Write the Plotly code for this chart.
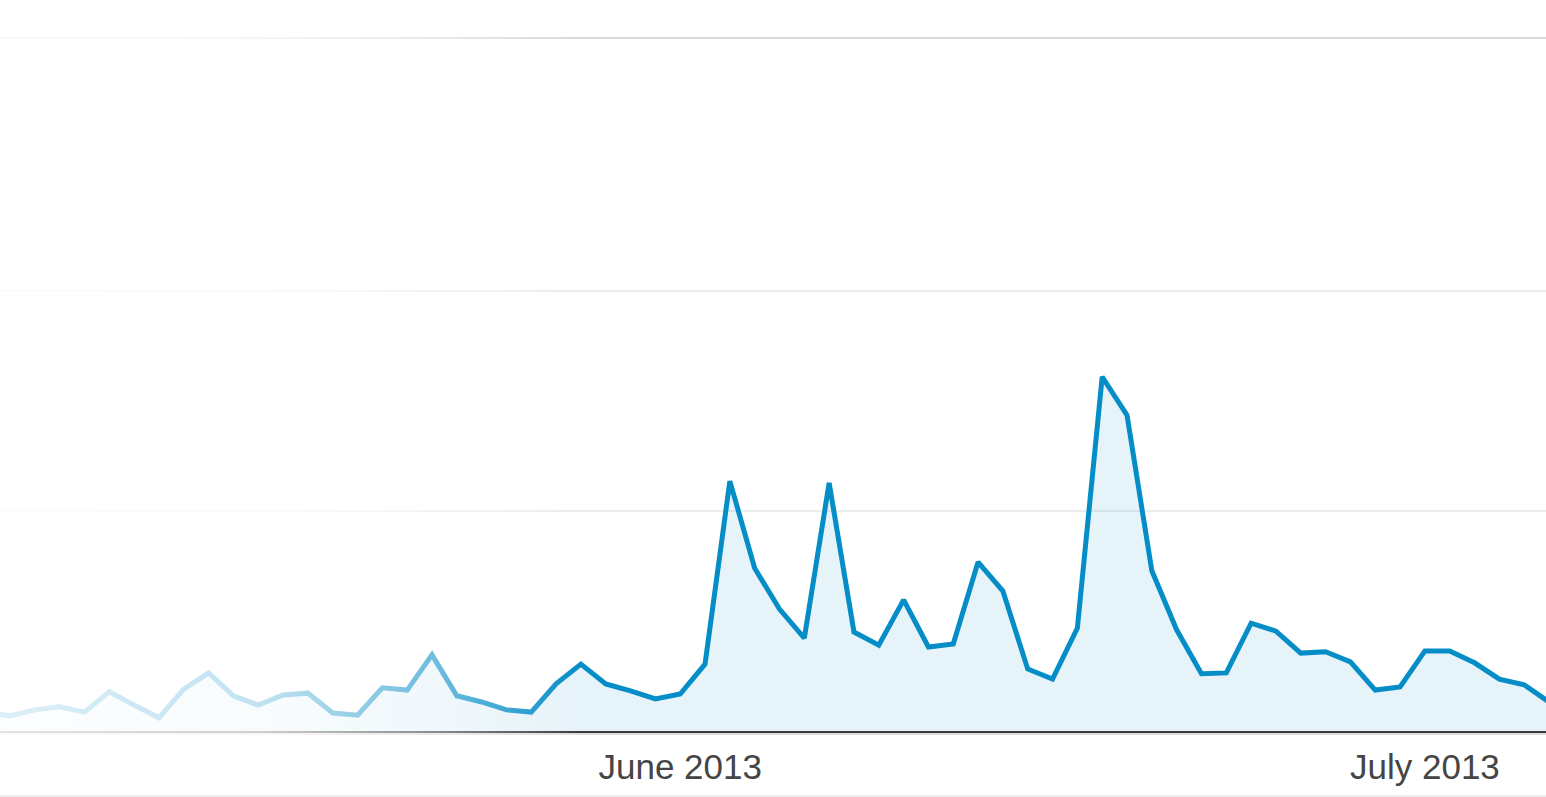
import base64
import pandas as pd
import plotly.graph_objects as go

# ---- data ----
start_date = "2013-05-04"
end_date = "2013-07-06"
visits = [4.5, 3.4, 4.8, 5.5, 4.3, 8.9, 5.9, 3.0, 9.5, 13.2,
          8.0, 5.9, 8.2, 8.6, 4.1, 3.6, 9.8, 9.3, 17.3, 8.0,
          6.6, 4.8, 4.3, 10.7, 15.2, 10.7, 9.1, 7.3, 8.4, 15.2,
          56.8, 37.0, 27.7, 21.1, 56.4, 22.5, 19.5, 29.8, 19.1, 19.8,
          38.4, 31.8, 14.1, 11.8, 23.4, 80.5, 71.8, 36.4, 23.0, 13.0,
          13.2, 24.5, 22.7, 17.7, 18.0, 15.7, 9.3, 10.0, 18.2, 18.2,
          15.5, 11.8, 10.5, 6.6]
tick_dates = ["2013-06-01", "2013-07-01"]
tick_labels = ["June 2013", "July 2013"]
grid_values = [50, 100]

dates = pd.date_range(start_date, end_date, freq="D")

W, H = 1546, 797
top_px, axis_px = 38, 731
plot_h = axis_px - top_px

fig = go.Figure()
fig.add_trace(go.Scatter(
    x=dates, y=visits, mode="lines",
    line=dict(color="#058DC7", width=5),
    fill="tozeroy", fillcolor="rgba(5,141,199,0.10)",
    hoverinfo="skip",
))

# left-side white fade overlay (SVG gradient image)
svg = ('<svg xmlns="http://www.w3.org/2000/svg" width="100" height="100" '
       'viewBox="0 0 100 100" preserveAspectRatio="none"><defs>'
       '<linearGradient id="g" x1="0" x2="1" y1="0" y2="0">'
       '<stop offset="0" stop-color="#fff" stop-opacity="0.86"/>'
       '<stop offset="0.45" stop-color="#fff" stop-opacity="0.75"/>'
       '<stop offset="0.75" stop-color="#fff" stop-opacity="0.42"/>'
       '<stop offset="0.92" stop-color="#fff" stop-opacity="0.15"/>'
       '<stop offset="1" stop-color="#fff" stop-opacity="0"/>'
       '</linearGradient></defs>'
       '<rect width="100" height="100" fill="url(#g)"/></svg>')
src = "data:image/svg+xml;base64," + base64.b64encode(svg.encode()).decode()

y_top_paper = 1 + top_px / plot_h
y_bot_paper = -(748 - axis_px) / plot_h

fig.update_layout(
    width=W, height=H,
    margin=dict(l=0, r=0, t=top_px, b=H - axis_px),
    paper_bgcolor="white", plot_bgcolor="white",
    showlegend=False,
    xaxis=dict(
        type="date",
        range=["2013-05-04 14:20", "2013-07-05 21:06"],
        tickvals=tick_dates, ticktext=tick_labels,
        showgrid=False, zeroline=False,
        showline=True, linecolor="#3a3a3a", linewidth=2,
        ticks="", ticklabelstandoff=4,
        tickfont=dict(family="Liberation Sans, Arial, sans-serif", size=35, color="#454545"),
        fixedrange=True,
    ),
    yaxis=dict(
        range=[0, plot_h / 4.4],
        tickvals=grid_values, showticklabels=False,
        showgrid=True, gridcolor="#ececec", gridwidth=2,
        zeroline=False, showline=False, fixedrange=True,
    ),
    shapes=[
        dict(type="line", xref="paper", yref="paper", x0=0, x1=1, y0=1, y1=1,
             line=dict(color="#d9d9d9", width=2), layer="below"),
        dict(type="line", xref="paper", yref="paper", x0=0, x1=1,
             y0=-3 / plot_h, y1=-3 / plot_h,
             line=dict(color="#dedede", width=2), layer="below"),
        dict(type="line", xref="paper", yref="paper", x0=0, x1=1,
             y0=-(796 - axis_px) / plot_h, y1=-(796 - axis_px) / plot_h,
             line=dict(color="#eeeeee", width=2), layer="below"),
    ],
    images=[dict(source=src, xref="paper", yref="paper", x=0, y=y_top_paper,
                 sizex=580 / W, sizey=y_top_paper - y_bot_paper,
                 sizing="stretch", xanchor="left", yanchor="top",
                 layer="above", opacity=1)],
)

fig.write_html("out.html", config={"displayModeBar": False},
               post_script="document.body.style.margin='0';document.body.style.overflow='hidden';")
